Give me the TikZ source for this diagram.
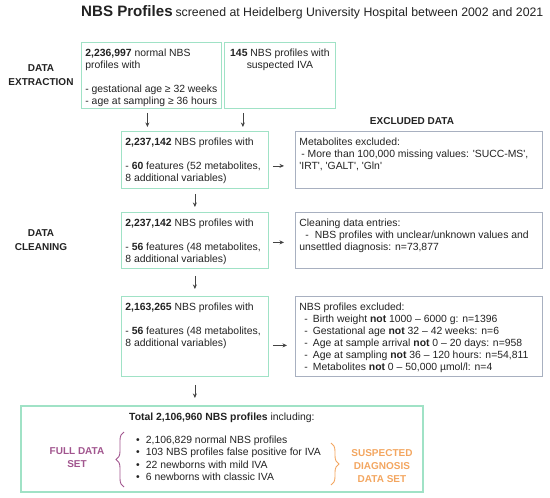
\documentclass[tikz,border=0pt]{standalone}
\usepackage{fontspec}
\setmainfont{Liberation Sans}
\usepackage{xcolor}
\usetikzlibrary{arrows.meta, positioning, decorations.pathreplacing}

\definecolor{mint}{RGB}{160,226,198}
\definecolor{slate}{RGB}{168,176,192}
\definecolor{ink}{RGB}{34,34,34}
\definecolor{plum}{RGB}{161,85,142}
\definecolor{apricot}{RGB}{243,166,96}

% fixed size box content: width, height, text
\newcommand{\boxpar}[3]{\parbox[c][#2pt][t]{#1pt}{\raggedright\strut #3}}

\begin{document}
\begin{tikzpicture}[x=1pt, y=-1pt,
    font=\fontsize{10.4}{12}\selectfont,
    greenbox/.style={draw=mint, line width=0.8pt, anchor=north west,
        inner xsep=4pt, inner ysep=6pt, text=ink},
    greybox/.style={greenbox, draw=slate},
    stagelbl/.style={align=center, text=ink, font=\fontsize{10}{13.5}\selectfont\bfseries},
    arr/.style={-{Stealth[length=4.5pt, width=4pt]}, draw=ink!85, line width=0.7pt}]
    \useasboundingbox (0,0) rectangle (550,498);

    % Title
    \node[anchor=west, text=ink, inner sep=0] (title) at (81,12)
        {{\fontsize{15.1}{17}\selectfont\bfseries NBS Profiles} {\fontsize{12.3}{14}\selectfont screened at Heidelberg University Hospital between 2002 and 2021}};

    % Stage labels
    \node[stagelbl] (extr) at (41,75) {DATA\\EXTRACTION};
    \node[stagelbl] (clean) at (41,240) {DATA\\CLEANING};
    \node[stagelbl] (exhead) at (412,121) {EXCLUDED DATA};

    % Data extraction
    \node[greenbox] (normal) at (81,42) {\boxpar{132}{54}{\textbf{2,236,997} normal NBS\\profiles with\\[12pt]- gestational age ≥ 32 weeks\\- age at sampling ≥ 36 hours}};
    \node[greenbox] (susp) at (224,42) {\boxpar{103}{54}{\centering\textbf{145} NBS profiles with\\suspected IVA}};

    % Data cleaning, left column
    \node[greenbox] (feat60) at (121,131) {\boxpar{139}{45}{\textbf{2,237,142} NBS profiles with\\[12pt]- \textbf{60} features (52 metabolites,\\8 additional variables)}};
    \node[greenbox] (feat56) at (121,212) {\boxpar{139}{44}{\textbf{2,237,142} NBS profiles with\\[12pt]- \textbf{56} features (48 metabolites,\\8 additional variables)}};
    \node[greenbox] (clean56) at (121,296) {\boxpar{139}{68}{\textbf{2,163,265} NBS profiles with\\[12pt]- \textbf{56} features (48 metabolites,\\8 additional variables)}};

    % Excluded data, right column
    \node[greybox] (exmeta) at (295,131) {\boxpar{239}{45}{Metabolites excluded:\\\hspace*{2pt}- More than 100,000 missing values: \textquotesingle SUCC-MS\textquotesingle,\\\textquotesingle IRT\textquotesingle, \textquotesingle GALT\textquotesingle, \textquotesingle Gln\textquotesingle}};
    \node[greybox] (exentry) at (295,212) {\boxpar{239}{44}{Cleaning data entries:\\\hspace*{6pt}-\hspace{6pt}NBS profiles with unclear/unknown values and\\unsettled diagnosis: n=73,877}};
    \node[greybox] (exprof) at (295,296) {\boxpar{239}{68}{NBS profiles excluded:\\
        \hspace*{5pt}-\hspace{5pt}Birth weight \textbf{not} 1000 – 6000 g: n=1396\\
        \hspace*{5pt}-\hspace{5pt}Gestational age \textbf{not} 32 – 42 weeks: n=6\\
        \hspace*{5pt}-\hspace{5pt}Age at sample arrival \textbf{not} 0 – 20 days: n=958\\
        \hspace*{5pt}-\hspace{5pt}Age at sampling \textbf{not} 36 – 120 hours: n=54,811\\
        \hspace*{5pt}-\hspace{5pt}Metabolites \textbf{not} 0 – 50,000 µmol/l: n=4}};

    % Final data set
    \node[greenbox, line width=1.8pt] (total) at (20,405) {\boxpar{394}{74}{\centering\textbf{Total 2,106,960 NBS profiles} including:}};
    \node[anchor=north west, inner sep=0, text=ink] (items) at (136,434)
        {\parbox[t]{195pt}{\fontsize{10.4}{12.6}\selectfont\strut
        \textbullet\hspace{6pt}2,106,829 normal NBS profiles\\
        \textbullet\hspace{6pt}103 NBS profiles false positive for IVA\\
        \textbullet\hspace{6pt}22 newborns with mild IVA\\
        \textbullet\hspace{6pt}6 newborns with classic IVA}};

    % Braces and data set labels
    \draw[plum, line width=0.9pt, decorate, decoration={brace, amplitude=8pt}] (124,487) -- (124,432);
    \node[stagelbl, text=plum, font=\fontsize{10}{13}\selectfont\bfseries] (full) at (77,458) {FULL DATA\\SET};
    \draw[apricot, line width=0.9pt, decorate, decoration={brace, amplitude=8pt}] (331,443) -- (331,485);
    \node[stagelbl, text=apricot, font=\fontsize{10}{13}\selectfont\bfseries] (suspset) at (382,466) {SUSPECTED\\DIAGNOSIS\\DATA SET};

    % Arrows
    \draw[arr, shorten <=4pt, shorten >=4pt] ([xshift=-4pt]normal.south) -- ([xshift=-4pt]normal.south |- feat60.north);
    \draw[arr, shorten <=4pt, shorten >=4pt] ([xshift=-37pt]susp.south) -- ([xshift=-37pt]susp.south |- feat60.north);
    \draw[arr, shorten <=5pt, shorten >=5pt] (feat60) -- (feat56);
    \draw[arr, shorten <=7pt, shorten >=7pt] (feat56) -- (clean56);
    \draw[arr, shorten <=8pt, shorten >=7pt] (clean56.south) -- (clean56.south |- total.north);
    \draw[arr, shorten <=4pt, shorten >=11pt] ([yshift=-6pt]feat60.east) -- ([yshift=-6pt]feat60.east -| exmeta.west);
    \draw[arr, shorten <=4pt, shorten >=11pt] ([yshift=-2pt]feat56.east) -- ([yshift=-2pt]feat56.east -| exentry.west);
    \draw[arr, shorten <=4pt, shorten >=8pt] ([yshift=-9pt]clean56.east) -- ([yshift=-9pt]clean56.east -| exprof.west);
\end{tikzpicture}
\end{document}
